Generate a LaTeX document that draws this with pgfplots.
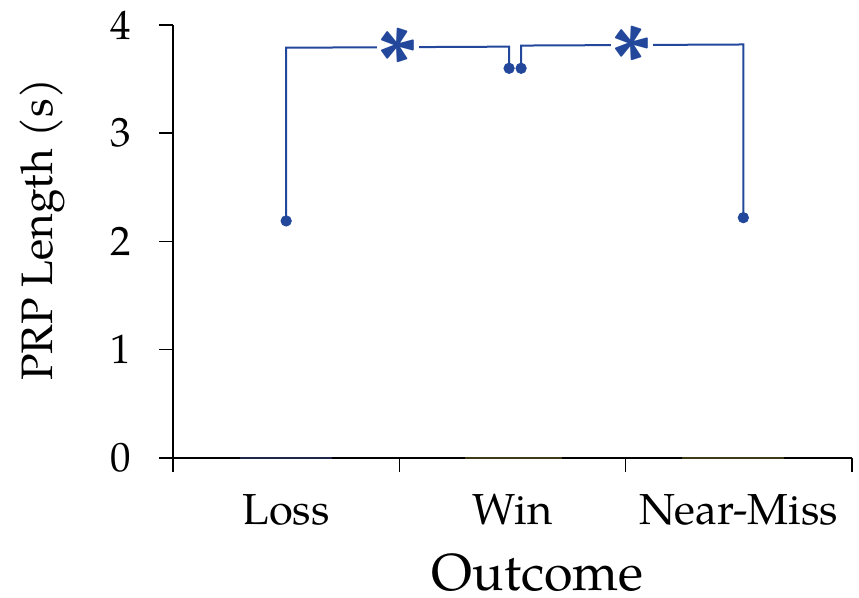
\documentclass[border=0pt]{standalone}
\usepackage{fontspec}
\setmainfont{TeX Gyre Pagella}
\usepackage{pgfplots}
\pgfplotsset{compat=1.18}
\definecolor{dotblue}{RGB}{34,71,155}
\definecolor{barnavy}{RGB}{30,38,72}
\definecolor{barolive}{RGB}{62,58,22}
\begin{document}
\begin{tikzpicture}
\begin{axis}[
  width=339.5pt, height=216.5pt, scale only axis,
  xmin=0, xmax=3, ymin=0, ymax=4,
  axis lines=left,
  axis line style={-, line width=0.75pt, black},
  xtick={0,1,2,3}, xticklabels={,,,},
  ytick={0,1,2,3,4},
  tick align=outside,
  major tick length=7pt,
  tick style={black, line width=0.75pt},
  /pgf/number format/assume math mode=true,
  ticklabel style={font=\fontsize{20.5}{20.5}\selectfont},
  yticklabel style={xshift=-10.5pt},
  extra x ticks={0.5,1.5,2.5},
  extra x tick labels={Loss,Win,Near-Miss},
  extra x tick style={major tick length=0pt, xticklabel style={yshift=-14.5pt, font=\fontsize{21.7}{21.7}\selectfont}},
  xlabel={Outcome},
  xlabel style={font=\fontsize{26}{26}\selectfont, at={(axis description cs:0.537,-0.305)}, anchor=base},
  ylabel={PRP Length (s)},
  ylabel style={font=\fontsize{22}{22}\selectfont, at={(axis description cs:-0.178,0.527)}, anchor=base, rotate=0},
  clip=false,
]
% zero-height bars
\addplot[barnavy, line width=1pt] coordinates {(0.296,0) (0.703,0)};
\addplot[barolive, line width=1pt] coordinates {(1.29,0) (1.72,0)};
\addplot[barolive, line width=1pt] coordinates {(2.25,0) (2.70,0)};
% brackets
\addplot[dotblue, line width=1pt, mark=none] coordinates {(0.5,2.19) (0.5,3.79) (1.485,3.80) (1.485,3.60)};
\addplot[dotblue, line width=1pt, mark=none] coordinates {(1.538,3.60) (1.538,3.81) (2.52,3.82) (2.52,2.22)};
\node[fill=white, inner sep=0pt, minimum width=21pt, minimum height=5pt] at (axis cs:0.994,3.80) {};
\node[fill=white, inner sep=0pt, minimum width=21pt, minimum height=5pt] at (axis cs:2.028,3.82) {};
\node[text=dotblue, inner sep=0pt, yshift=-7.5pt, font=\fontsize{46}{46}\selectfont\bfseries] at (axis cs:0.994,3.815) {*};
\node[text=dotblue, inner sep=0pt, yshift=-7.5pt, font=\fontsize{46}{46}\selectfont\bfseries] at (axis cs:2.028,3.834) {*};
% means
\addplot[only marks, mark=*, mark size=2.6pt, dotblue, mark options={fill=dotblue, draw=dotblue}] coordinates {(0.5,2.19) (1.485,3.60) (1.538,3.60) (2.52,2.22)};
\end{axis}
\pgfresetboundingbox
\useasboundingbox ([shift={(-86.5pt,-70pt)}]current axis.south west) rectangle ([shift={(343pt,229pt)}]current axis.south west);
\end{tikzpicture}
\end{document}
